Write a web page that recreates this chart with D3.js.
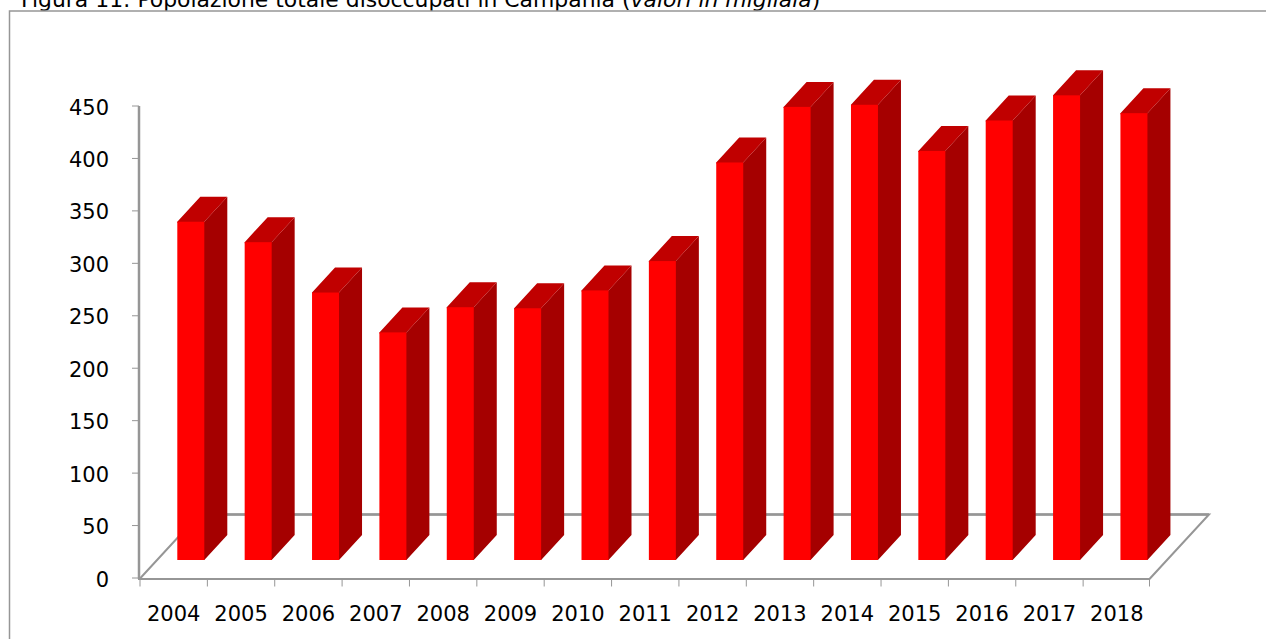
<!DOCTYPE html>
<html><head><meta charset="utf-8">
<script src="https://cdn.jsdelivr.net/npm/d3@7/dist/d3.min.js"></script>
<style>html,body{margin:0;padding:0;background:#fff}svg{display:block}</style>
</head><body><svg id="c" width="1266" height="639"></svg>
<script>
const years = ["2004","2005","2006","2007","2008","2009","2010","2011","2012","2013","2014","2015","2016","2017","2018"];
const values = [322.5,303,255,217,241,240,257,285,379,432,434,390,419,443,426];
const yTicks = [0,50,100,150,200,250,300,350,400,450];

const svg = d3.select("#c");
const y = d3.scaleLinear().domain([0,450]).range([578,106]);
const x = d3.scaleBand().domain(years).range([140,1150.5]);
const axisGrey = "#969696";
const barW = 27, barLeft = 37.3, lift = 18, dx = 23, dy = 25;
const font = "'DejaVu Sans'";

// title, partly hidden by the page top and by the chart frame
const title = svg.append("text").attr("x",21).attr("y",7)
  .attr("font-family",font).attr("font-size",21.9).attr("fill","#000");
title.append("tspan").text("Figura 11: Popolazione totale disoccupati in Campania (");
title.append("tspan").attr("font-style","italic").text("valori in migliaia");
title.append("tspan").text(")");
svg.append("path").attr("d","M9.5,639V11H1266V639Z").attr("fill","#fff").attr("stroke","none");
svg.append("path").attr("d","M9.5,639V11H1266").attr("fill","none").attr("stroke",axisGrey).attr("stroke-width",1.5);

// floor
svg.append("path").attr("d","M140,578.5L199,514.5H1209L1149.5,579")
  .attr("fill","none").attr("stroke",axisGrey).attr("stroke-width",2);
svg.append("path").attr("d","M199,514.5H1209").attr("stroke",axisGrey).attr("stroke-width",2.5);

// axes
svg.append("line").attr("x1",139).attr("x2",139).attr("y1",y(450)).attr("y2",579).attr("stroke",axisGrey).attr("stroke-width",2.5);
svg.append("line").attr("x1",138).attr("x2",1150).attr("y1",579).attr("y2",579).attr("stroke",axisGrey).attr("stroke-width",2.2);
svg.selectAll(".yt").data(yTicks).join("line").attr("class","yt")
  .attr("x1",132).attr("x2",139).attr("y1",d=>y(d)).attr("y2",d=>y(d)).attr("stroke",axisGrey);
svg.selectAll(".yl").data(yTicks).join("text").attr("class","yl")
  .attr("x",109).attr("y",d=>y(d)+8.5).attr("text-anchor","end")
  .attr("font-family",font).attr("font-size",21).attr("fill","#000").text(d=>d);
const xTickPos = years.map(d=>x(d)).concat([1149.5]);
svg.selectAll(".xt").data(xTickPos).join("line").attr("class","xt")
  .attr("x1",d=>d).attr("x2",d=>d).attr("y1",579).attr("y2",586.5).attr("stroke",axisGrey);
svg.selectAll(".xl").data(years).join("text").attr("class","xl")
  .attr("x",d=>x(d)+x.bandwidth()/2).attr("y",620.5).attr("text-anchor","middle")
  .attr("font-family",font).attr("font-size",21).attr("fill","#000").text(d=>d);

// bars
const g = svg.selectAll(".bar").data(years.map((k,i)=>({k,v:values[i]}))).join("g").attr("class","bar");
const L = d=>x(d.k)+barLeft, R = d=>L(d)+barW, B = ()=>y(0)-lift, T = d=>y(d.v)-lift;
g.append("path").attr("fill","#a50000")
  .attr("d",d=>`M${R(d)-1},${B()}H${R(d)}L${R(d)+dx},${B()-dy}V${T(d)-dy}L${R(d)},${T(d)}H${R(d)-1}Z`);
g.append("path").attr("fill","#c00000")
  .attr("d",d=>`M${L(d)},${T(d)+1}V${T(d)}L${L(d)+dx},${T(d)-dy}H${R(d)+dx}L${R(d)},${T(d)}V${T(d)+1}Z`);
g.append("rect").attr("fill","#ff0000").attr("x",L).attr("y",T).attr("width",barW).attr("height",d=>B()-T(d));
</script></body></html>
